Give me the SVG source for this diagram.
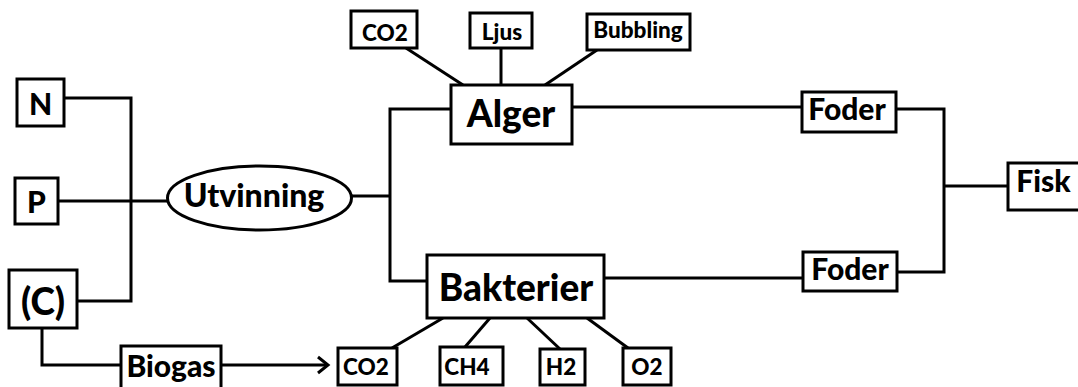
<svg xmlns="http://www.w3.org/2000/svg" width="1078" height="387" viewBox="0 0 1078 387">
<style>
.b{fill:#fff;stroke:#000;stroke-width:3}
.c{fill:none;stroke:#000;stroke-width:3}
text{font-family:Lato,"Open Sans","Liberation Sans",sans-serif;font-weight:900;fill:#000;text-anchor:middle}
.s{font-size:22.5px}
.m{font-size:30px}
.l{font-size:37px}
</style>
<rect width="1078" height="387" fill="#fff"/>
<g id="connectors">
<polyline class="c" points="64,98 131,98 131,301 77,301"/>
<line class="c" x1="58" y1="201" x2="167" y2="201"/>
<line class="c" x1="352" y1="196" x2="390" y2="196"/>
<polyline class="c" points="451,109 390,109 390,281 427,281"/>
<polyline class="c" points="42,328 42,365 121,365"/>
<line class="c" x1="221" y1="365" x2="327" y2="365"/>
<polyline class="c" points="318,357 328,365 318,373"/>
<line class="c" x1="406" y1="48" x2="463" y2="85"/>
<line class="c" x1="501" y1="48" x2="501" y2="85"/>
<line class="c" x1="597" y1="50" x2="545" y2="85"/>
<line class="c" x1="572" y1="107" x2="802" y2="107"/>
<line class="c" x1="604" y1="278" x2="803" y2="278"/>
<polyline class="c" points="896,109 944,109 944,272 897,272"/>
<line class="c" x1="944" y1="186" x2="1008" y2="186"/>
<line class="c" x1="443" y1="318" x2="392" y2="348"/>
<line class="c" x1="490" y1="318" x2="465" y2="347"/>
<line class="c" x1="527" y1="318" x2="560" y2="349"/>
<line class="c" x1="587" y1="318" x2="628" y2="348"/>
</g>
<g id="N"><rect class="b" x="17" y="79" width="47" height="47"/><text x="40.5" y="115" style="font-size:30px">N</text></g>
<g id="P"><rect class="b" x="15" y="178" width="43" height="46"/><text x="36.5" y="213" style="font-size:30px">P</text></g>
<g id="C"><rect class="b" x="9" y="270" width="68" height="58"/><text x="43" y="315" style="font-size:37px">(C)</text></g>
<g id="Utvinning"><ellipse class="b" cx="259.5" cy="198" rx="92" ry="32"/><text x="254" y="207" style="font-size:32px">Utvinning</text></g>
<g id="Alger"><rect class="b" x="451" y="85" width="121" height="59"/><text class="l" x="511" y="127">Alger</text></g>
<g id="Bakterier"><rect class="b" x="427" y="255" width="177" height="63"/><text class="l" x="516" y="301">Bakterier</text></g>
<g id="CO2top"><rect class="b" x="351" y="11" width="66" height="37"/><text class="s" x="385" y="41">CO2</text></g>
<g id="Ljus"><rect class="b" x="470" y="13" width="62" height="35"/><text class="s" x="502" y="40">Ljus</text></g>
<g id="Bubbling"><rect class="b" x="587" y="14" width="103" height="36"/><text class="s" x="638" y="38">Bubbling</text></g>
<g id="Foder1"><rect class="b" x="802" y="92" width="94" height="40"/><text class="m" x="847" y="120">Foder</text></g>
<g id="Foder2"><rect class="b" x="803" y="252" width="94" height="39"/><text class="m" x="850" y="280">Foder</text></g>
<g id="Fisk"><rect class="b" x="1008" y="163" width="75" height="47"/><text class="m" x="1043.5" y="192">Fisk</text></g>
<g id="Biogas"><rect class="b" x="121" y="346" width="100" height="45"/><text class="m" x="171" y="377">Biogas</text></g>
<g id="CO2b"><rect class="b" x="338" y="348" width="59" height="37"/><text class="s" x="366" y="375">CO2</text></g>
<g id="CH4"><rect class="b" x="440" y="347" width="63" height="38"/><text class="s" x="467" y="375">CH4</text></g>
<g id="H2"><rect class="b" x="540" y="349" width="45" height="36"/><text class="s" x="561" y="375">H2</text></g>
<g id="O2"><rect class="b" x="623" y="348" width="48" height="37"/><text class="s" x="647" y="375">O2</text></g>
</svg>
